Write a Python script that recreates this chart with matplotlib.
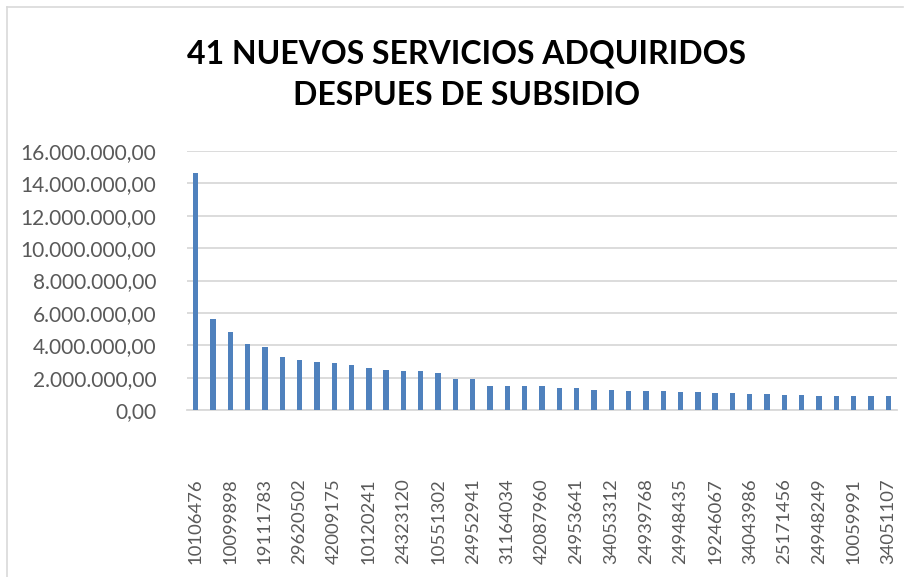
import matplotlib
matplotlib.use("Agg")
import matplotlib.pyplot as plt
from matplotlib.ticker import FuncFormatter, MultipleLocator
from matplotlib.lines import Line2D

# values (41 bars, sorted descending)
values = [14650000, 5600000, 4820000, 4080000, 3910000, 3270000, 3090000,
          2940000, 2900000, 2780000, 2590000, 2450000, 2390000, 2380000,
          2290000, 1930000, 1920000, 1500000, 1490000, 1475000, 1470000,
          1350000, 1345000, 1240000, 1220000, 1200000, 1195000, 1160000,
          1140000, 1100000, 1080000, 1020000, 1000000, 995000, 940000,
          935000, 885000, 880000, 878000, 860000, 858000]

# only every other category label is visible in the reference
tick_labels = ['10106476', '10099898', '19111783', '29620502', '42009175',
               '10120241', '24323120', '10551302', '24952941', '31164034',
               '42087960', '24953641', '34053312', '24939768', '24948435',
               '19246067', '34043986', '25171456', '24948249', '10059991',
               '34051107']

title = "41 NUEVOS SERVICIOS ADQUIRIDOS\nDESPUES DE SUBSIDIO"

plt.rcParams['font.family'] = ['Lato', 'DejaVu Sans']

fig = plt.figure(figsize=(9.12, 5.77), dpi=100)
ax = fig.add_axes([187 / 912, 1 - 410 / 577, 710 / 912, 259 / 577])

x = list(range(len(values)))
ax.bar(x, values, width=0.31, color='#4F81BD', zorder=3)

ax.set_xlim(-0.5, len(values) - 0.5)
ax.set_ylim(0, 16000000)
ax.yaxis.set_major_locator(MultipleLocator(2000000))


def fmt(v, pos):
    s = f"{v:,.2f}"
    return s.replace(',', 'X').replace('.', ',').replace('X', '.')


ax.yaxis.set_major_formatter(FuncFormatter(fmt))
ax.set_xticks(x[::2])
ax.set_xticklabels(tick_labels, rotation=90, va='top', ha='center')

ax.grid(axis='y', color='#D9D9D9', linewidth=1.3, zorder=0)
for s in ['top', 'right', 'left']:
    ax.spines[s].set_visible(False)
ax.spines['bottom'].set_color('#D9D9D9')
ax.spines['bottom'].set_linewidth(1.3)
ax.tick_params(axis='both', length=0, colors='#595959')
ax.tick_params(axis='y', pad=22, labelsize=15)
ax.tick_params(axis='x', pad=49, labelsize=13.3)

fig.text(467 / 912, 1 - 75 / 577, title, ha='center', va='center',
         fontsize=23, fontweight='bold', color='black', linespacing=1.54)

# light chart border (top and left edges visible in the reference)
fig.add_artist(Line2D([7 / 912, 903 / 912], [1 - 7 / 577, 1 - 7 / 577],
                      transform=fig.transFigure, color='#D9D9D9', lw=1.2))
fig.add_artist(Line2D([7 / 912, 7 / 912], [0, 1 - 7 / 577],
                      transform=fig.transFigure, color='#D9D9D9', lw=1.2))

fig.savefig('out.png', dpi=100)
